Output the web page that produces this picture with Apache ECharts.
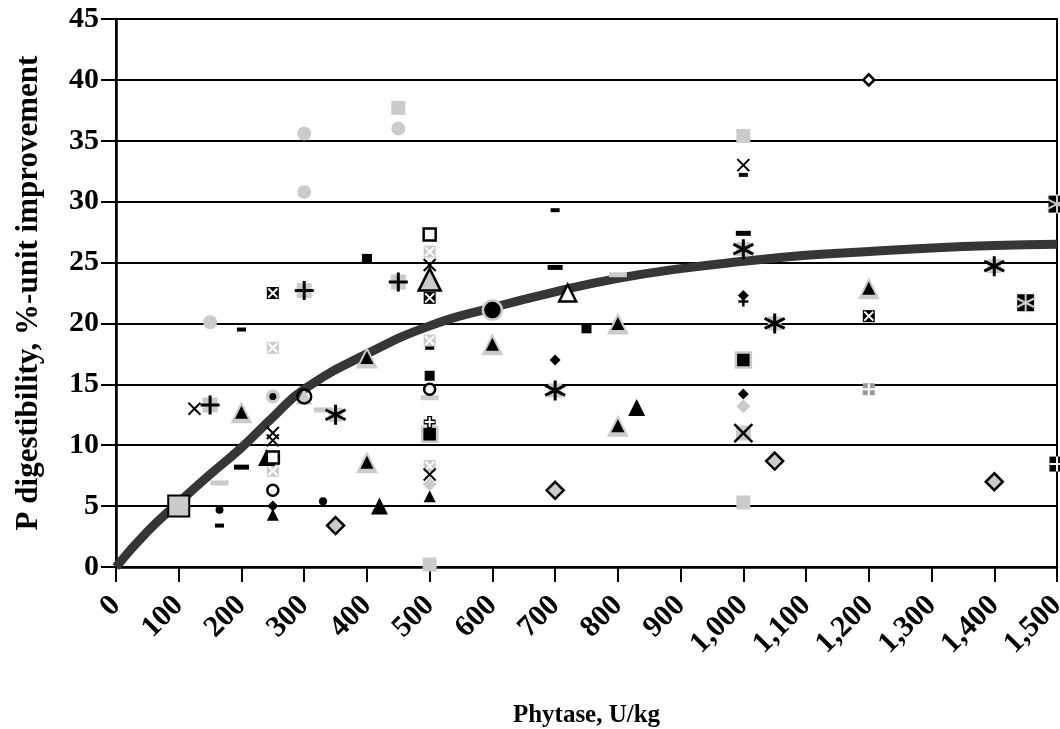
<!DOCTYPE html>
<html><head><meta charset="utf-8">
<script src="https://cdn.jsdelivr.net/npm/echarts@6.0.0/dist/echarts.min.js"></script>
<style>html,body{margin:0;padding:0;background:#fff}#c{width:1060px;height:729px}</style>
</head><body><div id="c"></div>
<script>
// ---- axis ticks ----
const xTickLabels = ['0','100','200','300','400','500','600','700','800','900','1,000','1,100','1,200','1,300','1,400','1,500'];
const yTickLabels = ['0','5','10','15','20','25','30','35','40','45'];

// ---- fitted response curve ----
const curveX = [0,50,100,150,200,250,300,400,500,600,700,800,900,1000,1100,1200,1300,1400,1500];
const curveY = [0,2.9,5.3,7.6,9.8,12.3,14.6,17.5,19.8,21.3,22.6,23.7,24.5,25.1,25.6,25.9,26.2,26.4,26.5];

// ---- observations, grouped by marker style ----
const bigGraySquare = [[100,5.0]];
const grayCircle = [[150,20.1],[300,30.8],[450,36.0],[300,35.6]];
const graySquare = [[450,37.7],[1000,35.4],[1000,5.3],[500,0.2]];
const blackDashWide = [[200,8.2],[700,24.6],[1000,27.4]];
const blackDashSmall = [[200,19.5],[165,3.4],[700,29.3],[1000,32.2],[500,18.0]];
const grayDash = [[165,6.9],[330,12.9],[500,13.9],[800,24.0]];
const blackXSquare = [[250,22.5],[500,22.1],[1200,20.6]];
const blackXSquareLarge = [[1450,21.7],[1500,29.8]];
const grayXSquare = [[250,18.0],[250,7.9],[500,25.9],[500,18.6],[500,8.3]];
const plusOnGray = [[150,13.3],[300,22.7],[450,23.4]];
const thinX = [[125,13.0],[250,11.0],[250,10.4],[500,24.8],[500,7.6],[1000,33.0]];
const xOnGray = [[1000,11.0]];
const triGrayEdge = [[200,12.7],[400,17.2],[400,8.6],[600,18.3],[800,20.0],[800,11.6],[1200,22.9]];
const blackTriangle = [[240,9.0],[420,5.0],[830,13.1]];
const blackTriangleSmall = [[250,4.3],[500,5.8]];
const grayCircleDot = [[250,14.0]];
const openCircle = [[250,6.3],[500,14.6]];
const grayOpenCircle = [[300,14.0]];
const blackDiamond = [[250,5.0],[700,17.0],[1000,14.2],[1000,22.3]];
const grayDiamondEdge = [[350,3.4],[700,6.3],[1050,8.7],[1400,7.0]];
const grayDiamond = [[500,6.8],[1000,13.2]];
const openDiamond = [[1200,40.0]];
const blackCircleGrayEdge = [[600,21.1]];
const blackDot = [[165,4.7],[330,5.4]];
const asteriskOnGray = [[350,12.5],[700,14.5],[1000,26.1],[1050,20.0],[1400,24.7]];
const openSquare = [[500,27.3],[250,9.0]];
const grayTriBlackEdge = [[500,23.6]];
const openTriangle = [[720,22.5]];
const blackSquare = [[400,25.3],[750,19.6],[500,15.7]];
const blackSquareGrayEdge = [[1000,17.0],[500,10.9]];
const plusBlack = [[1000,21.8]];
const crossOutlined = [[500,11.9]];
const grayPlusSquare = [[1200,14.6]];
const blackPlusSquare = [[1500,8.45]];

// ---- styling ----
const G = '#cbcbcb', K = '#000', W = '#fff';
const FONT = '"Liberation Serif","Times New Roman",serif';
const P_X = 'path://M0,0L10,10M10,0L0,10';
const P_PLUS = 'path://M5,0L5,10M0,5L10,5';
const P_AST = 'path://M5,0L5,10M0.7,2.5L9.3,7.5M0.7,7.5L9.3,2.5';

let zc = 10;
function sc(data, symbol, size, style) {
  return { type: 'scatter', data: data, symbol: symbol, symbolSize: size,
    itemStyle: Object.assign({ opacity: 1 }, style), z: 3, z2: zc++,
    silent: true, animation: false, clip: false };
}
const fill = c => ({ color: c, borderWidth: 0 });
const edge = (c, b, w) => ({ color: c, borderColor: b, borderWidth: w });
const strokeOnly = (b, w) => ({ color: 'none', borderColor: b, borderWidth: w });

const series = [
  { type: 'line', data: curveX.map((x, i) => [x, curveY[i]]), smooth: true, showSymbol: false,
    lineStyle: { color: '#363636', width: 9 }, z: 2, silent: true, animation: false },
  sc(bigGraySquare, 'rect', 21, edge(G, K, 2)),
  sc(grayCircle, 'circle', 14, fill(G)),
  sc(graySquare, 'rect', 14, fill(G)),
  sc(blackDashWide, 'rect', [15, 5], fill(K)),
  sc(blackDashSmall, 'rect', [9, 4], fill(K)),
  sc(grayDash, 'rect', [18, 5], fill(G)),
  sc(blackXSquare, 'rect', 12, fill(K)),
  sc(blackXSquare, P_X, 9, strokeOnly(W, 2)),
  sc(blackXSquareLarge, 'rect', 17, fill(K)),
  sc(blackXSquareLarge, P_AST, 19, strokeOnly(G, 2)),
  sc(grayXSquare, 'rect', 12, fill(G)),
  sc(grayXSquare, P_X, 9, strokeOnly(W, 2)),
  sc(plusOnGray, 'rect', 15, fill(G)),
  sc(plusOnGray, P_PLUS, 19, strokeOnly(K, 3)),
  sc(thinX, P_X, 12, strokeOnly(K, 2)),
  sc(xOnGray, 'rect', 15, fill(G)),
  sc(xOnGray, P_X, 18, strokeOnly(K, 2.5)),
  sc(triGrayEdge, 'triangle', 22, fill(G)),
  sc(triGrayEdge, 'triangle', 13, fill(K)),
  sc(blackTriangle, 'triangle', 17, fill(K)),
  sc(blackTriangleSmall, 'triangle', 12, fill(K)),
  sc(grayCircleDot, 'circle', 14, fill(G)),
  sc(grayCircleDot, 'circle', 7, fill(K)),
  sc(openCircle, 'circle', 11, edge(W, K, 2.5)),
  sc(grayOpenCircle, 'triangle', 16, fill(G)),
  sc(grayOpenCircle, 'circle', 14, edge('none', K, 2.5)),
  sc(blackDiamond, 'diamond', 11, fill(K)),
  sc(grayDiamondEdge, 'diamond', 17, edge(G, K, 2.5)),
  sc(grayDiamond, 'diamond', 14, fill(G)),
  sc(openDiamond, 'diamond', 11, edge(W, K, 2.5)),
  sc(blackCircleGrayEdge, 'circle', 19, edge(K, G, 2.5)),
  sc(blackDot, 'circle', 8, fill(K)),
  sc(asteriskOnGray, 'rect', 14, fill(G)),
  sc(asteriskOnGray, P_AST, 20, strokeOnly(K, 3)),
  sc(openSquare, 'rect', 12, edge(W, K, 2.5)),
  sc(grayTriBlackEdge, 'triangle', 22, edge(G, K, 2.5)),
  sc(openTriangle, 'triangle', 17, edge(W, K, 2.5)),
  sc(blackSquare, 'rect', 10, fill(K)),
  sc(blackSquareGrayEdge, 'rect', 15, edge(K, G, 2.5)),
  sc(plusBlack, P_PLUS, 10, strokeOnly(K, 2.5)),
  sc(crossOutlined, P_PLUS, 12, strokeOnly(K, 5)),
  sc(crossOutlined, P_PLUS, 10, strokeOnly(W, 2)),
  sc(grayPlusSquare, 'rect', 12, fill('#9a9a9a')),
  sc(grayPlusSquare, P_PLUS, 12, strokeOnly(W, 2)),
  sc(blackPlusSquare, 'rect', 15, fill(K)),
  sc(blackPlusSquare, P_PLUS, 15, strokeOnly(W, 2))
];

const tickFont = { fontFamily: FONT, fontWeight: 'bold', fontSize: 30, color: K };

const chart = echarts.init(document.getElementById('c'), null, { renderer: 'canvas' });
chart.setOption({
  backgroundColor: '#fff',
  animation: false,
  grid: { left: 116, right: 3, top: 19, bottom: 162, show: true, borderColor: K, borderWidth: 2,
    backgroundColor: 'transparent', outerBoundsMode: 'none', containLabel: false },
  xAxis: {
    type: 'value', min: 0, max: 1500, interval: 100,
    axisLine: { show: true, lineStyle: { color: K, width: 2.5 } },
    axisTick: { show: true, length: 15, lineStyle: { color: K, width: 2 } },
    splitLine: { show: false },
    axisLabel: Object.assign({ rotate: 45, margin: 34, hideOverlap: false,
      formatter: v => xTickLabels[Math.round(v / 100)] }, tickFont),
    name: 'Phytase, U/kg', nameLocation: 'middle', nameGap: 136,
    nameTextStyle: { fontFamily: FONT, fontWeight: 'bold', fontSize: 25, color: K }
  },
  yAxis: {
    type: 'value', min: 0, max: 45, interval: 5,
    axisLine: { show: true, lineStyle: { color: K, width: 2.5 } },
    axisTick: { show: true, length: 15, lineStyle: { color: K, width: 2 } },
    splitLine: { show: true, lineStyle: { color: K, width: 2 } },
    axisLabel: Object.assign({ margin: 17, formatter: v => yTickLabels[Math.round(v / 5)] }, tickFont),
    name: 'P digestibility, %-unit improvement', nameLocation: 'middle', nameGap: 72,
    nameTextStyle: { fontFamily: FONT, fontWeight: 'bold', fontSize: 31, color: K }
  },
  series: series
});
</script>
</body></html>
